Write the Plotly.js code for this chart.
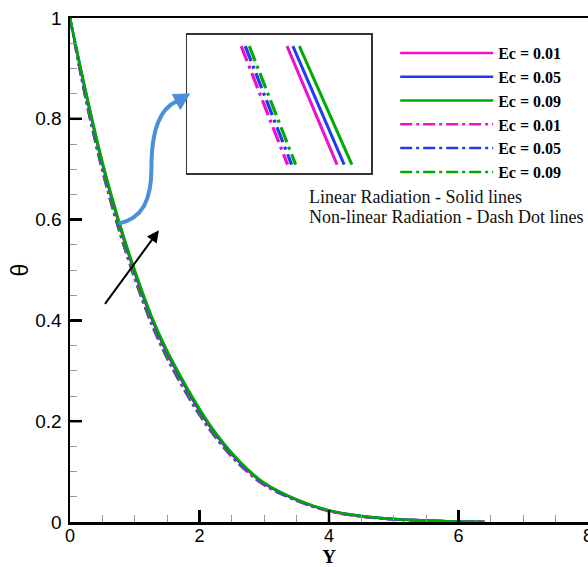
<!DOCTYPE html>
<html><head><meta charset="utf-8">
<script src="https://cdn.plot.ly/plotly-3.0.1.min.js"></script>
<style>html,body{margin:0;padding:0;background:#fff}#plot{width:588px;height:567px}</style>
</head><body><div id="plot"></div>
<script>
// ---- data ----
const Y = [0, 0.25, 0.5, 0.75, 1, 1.25, 1.5, 1.75, 2, 2.25, 2.5, 2.75, 3, 3.5, 4, 4.5, 5, 5.5, 6, 6.4];
const linEc001 = [1, 0.846, 0.709, 0.594, 0.494, 0.406, 0.334, 0.275, 0.220, 0.173, 0.134, 0.102, 0.076, 0.044, 0.022, 0.011, 0.006, 0.003, 0.001, 0];
const linEc005 = [1, 0.849, 0.712, 0.597, 0.497, 0.409, 0.337, 0.277, 0.222, 0.175, 0.135, 0.103, 0.077, 0.044, 0.023, 0.012, 0.006, 0.003, 0.001, 0];
const linEc009 = [1, 0.852, 0.715, 0.600, 0.500, 0.412, 0.340, 0.280, 0.225, 0.177, 0.137, 0.104, 0.078, 0.045, 0.023, 0.012, 0.006, 0.003, 0.001, 0];
const nlEc001 = [1, 0.834, 0.696, 0.581, 0.482, 0.395, 0.324, 0.265, 0.212, 0.167, 0.129, 0.098, 0.073, 0.042, 0.021, 0.011, 0.005, 0.002, 0.001, 0];
const nlEc005 = [1, 0.836, 0.698, 0.583, 0.484, 0.397, 0.326, 0.267, 0.213, 0.168, 0.130, 0.099, 0.074, 0.043, 0.022, 0.011, 0.005, 0.003, 0.001, 0];
const nlEc009 = [1, 0.838, 0.700, 0.585, 0.486, 0.399, 0.328, 0.269, 0.215, 0.169, 0.131, 0.100, 0.075, 0.043, 0.022, 0.011, 0.006, 0.003, 0.001, 0];
const ecLabels = ['Ec = 0.01', 'Ec = 0.05', 'Ec = 0.09'];
const xMajorTicks = [2, 4, 6];
const yMajorTicks = [0.2, 0.4, 0.6, 0.8];
// inset (magnified view) segment end points
const insetX = {
  lin: [[0.542, 0.814], [0.574, 0.853], [0.609, 0.895]],
  nl:  [[0.293, 0.545], [0.315, 0.567], [0.337, 0.589]]
};
const insetT = [0.919, 0.063];

const colors = ['#ee10cc', '#1f3cf0', '#00aa00'];
const DD = '12px,4px,3px,4px';

// pixel -> data helpers for decorations
const L = 69.5, R = 588, T = 17.5, B = 522;
const px2x = p => (p - L) / (R - L) * 8;
const px2y = p => (B - p) / (B - T);
const TICKLEN = 12;
const dxTick = TICKLEN / (R - L) * 8;   // 12 px in x data units
const dyTick = TICKLEN / (B - T);       // 12 px in y data units

const traces = [];
const nl = [nlEc001, nlEc005, nlEc009];
const lin = [linEc001, linEc005, linEc009];
for (let i = 0; i < 3; i++) {
  traces.push({x: Y, y: nl[i], type: 'scatter', mode: 'lines', name: ecLabels[i],
    line: {color: colors[i], width: 2.5, dash: DD, shape: 'spline'}, legendrank: 4 + i});
}
for (let i = 0; i < 3; i++) {
  traces.push({x: Y, y: lin[i], type: 'scatter', mode: 'lines', name: ecLabels[i],
    line: {color: colors[i], width: 2.5, shape: 'spline'}, legendrank: 1 + i});
}
for (let i = 0; i < 3; i++) {
  traces.push({x: insetX.nl[i], y: insetT, xaxis: 'x2', yaxis: 'y2', mode: 'lines', showlegend: false,
    line: {color: colors[i], width: 3.2, dash: '16px,5px,3px,5px'}});
}
for (let i = 0; i < 3; i++) {
  traces.push({x: insetX.lin[i], y: insetT, xaxis: 'x2', yaxis: 'y2', mode: 'lines', showlegend: false,
    line: {color: colors[i], width: 3}});
}
// major inside tick marks (12 px), built from the tick value arrays
traces.push({x: xMajorTicks.flatMap(v => [v, v, null]), y: xMajorTicks.flatMap(() => [0, dyTick, null]),
  mode: 'lines', showlegend: false, hoverinfo: 'skip', cliponaxis: false, line: {color: '#000', width: 2.5}});
traces.push({x: yMajorTicks.flatMap(() => [0, dxTick, null]), y: yMajorTicks.flatMap(v => [v, v, null]),
  mode: 'lines', showlegend: false, hoverinfo: 'skip', cliponaxis: false, line: {color: '#000', width: 2.5}});

const P = (x, y) => px2x(x).toFixed(4) + ',' + px2y(y).toFixed(4);
const arrowPath = 'M' + P(118.3, 223.3) + ' C' + P(142, 218) + ' ' + P(151, 200) + ' ' + P(151, 168) +
  ' C' + P(151, 128) + ' ' + P(160, 108) + ' ' + P(177, 100.5);
const headPath = 'M' + P(189, 93.5) + ' L' + P(172, 94) + ' L' + P(180, 109) + ' Z';

const majorTicks = {ticks: 'inside', ticklen: TICKLEN, tickwidth: 2.5, tickcolor: '#000'};

const layout = {
  width: 588, height: 567,
  margin: {l: L, r: 0, t: T, b: 567 - B},
  paper_bgcolor: '#fff', plot_bgcolor: '#fff',
  showlegend: true,
  legend: {x: (395 - L) / (R - L), y: (522 - 35.5) / (B - T), xanchor: 'left', yanchor: 'top',
    bgcolor: 'rgba(0,0,0,0)', itemwidth: 93, tracegroupgap: 0,
    font: {family: 'Liberation Serif', size: 16, color: '#000', weight: 'bold'}},
  xaxis: Object.assign({range: [0, 8], tick0: 0, dtick: 2,
    showline: true, linewidth: 2.5, linecolor: '#000', mirror: true, showgrid: false, zeroline: false,
    minor: {dtick: 0.5, ticks: 'inside', ticklen: 7, tickwidth: 1, tickcolor: '#999', showgrid: false},
    tickfont: {family: 'Liberation Sans', size: 18, color: '#000'}, ticklabelstandoff: -4,
    ticklabeloverflow: 'allow',
    title: {text: 'Y', font: {family: 'Liberation Serif', size: 19, color: '#000', weight: 'bold'}, standoff: 6}}, majorTicks),
  yaxis: Object.assign({range: [0, 1], tick0: 0, dtick: 0.2,
    showline: true, linewidth: 2.5, linecolor: '#000', showgrid: false, zeroline: false,
    minor: {dtick: 0.05, ticks: 'inside', ticklen: 7, tickwidth: 1, tickcolor: '#999', showgrid: false},
    tickfont: {family: 'Liberation Sans', size: 19, color: '#000'}, ticklabelstandoff: 2,
    title: {text: 'θ', font: {family: 'Liberation Sans', size: 23, color: '#000'}, standoff: 0}}, majorTicks),
  xaxis2: {domain: [(187 - L) / (R - L), (371 - L) / (R - L)], range: [0, 1], anchor: 'y2',
    showticklabels: false, ticks: '', showgrid: false, zeroline: false, showline: true, mirror: true,
    linecolor: '#333', linewidth: 1.5},
  yaxis2: {domain: [(B - 173) / (B - T), (B - 34.5) / (B - T)], range: [0, 1], anchor: 'x2',
    showticklabels: false, ticks: '', showgrid: false, zeroline: false, showline: true, mirror: true,
    linecolor: '#333', linewidth: 1.5},
  shapes: [
    {type: 'rect', xref: 'paper', yref: 'paper', layer: 'below',
      x0: (187 - L) / (R - L), x1: (371 - L) / (R - L), y0: (B - 173) / (B - T), y1: (B - 34.5) / (B - T),
      fillcolor: '#fff', line: {width: 0}},
    {type: 'path', xref: 'x', yref: 'y', path: arrowPath, line: {color: '#4a90d8', width: 4}},
    {type: 'path', xref: 'x', yref: 'y', path: headPath, fillcolor: '#4a90d8', line: {color: '#4a90d8', width: 1}}
  ],
  annotations: [
    {x: px2x(158.5), y: px2y(230), ax: -55, ay: 75, xref: 'x', yref: 'y', showarrow: true,
      arrowhead: 2, arrowsize: 1.2, arrowwidth: 2, arrowcolor: '#000', text: ''},
    {x: px2x(307), y: px2y(197), xref: 'x', yref: 'y', xanchor: 'left', yanchor: 'middle', showarrow: false,
      text: 'Linear Radiation - Solid lines', font: {family: 'Liberation Serif', size: 18, color: '#111'}},
    {x: px2x(307), y: px2y(217), xref: 'x', yref: 'y', xanchor: 'left', yanchor: 'middle', showarrow: false,
      text: 'Non-linear Radiation - Dash Dot lines', font: {family: 'Liberation Serif', size: 18, color: '#111'}}
  ]
};

Plotly.newPlot('plot', traces, layout, {displayModeBar: false, staticPlot: true});
</script></body></html>
